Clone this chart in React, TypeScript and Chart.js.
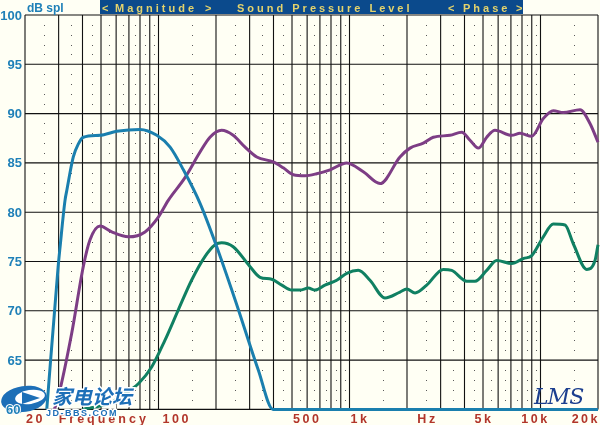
import { useEffect, useRef } from "react";
import { Chart, registerables } from "chart.js";

Chart.register(...registerables);

// ---- data (Hz, dB SPL) ----
const BLUE_HZ = [26, 29.8, 30.5, 32.4, 33.1, 35.8, 38, 40.4, 49.4, 60.4, 80, 98, 115, 135, 165, 200, 252, 333, 398, 20000];
const BLUE_DB = [60, 74.4, 76.4, 81.2, 82.2, 85.6, 86.9, 87.6, 87.8, 88.2, 88.4, 87.8, 86.6, 84.3, 80.9, 76.7, 71.1, 64, 60, 60];

const PURPLE_HZ = [28.5, 29.9, 35.1, 40.4, 43.8, 49.4, 56.9, 69.5, 85, 99.8, 112.5, 137.6, 165, 186, 214, 246, 284, 327, 399, 450, 508, 585, 673, 791, 967, 1181, 1445, 1838, 2074, 2434, 2746, 3360, 3868, 4275, 4725, 5228, 5778, 7066, 7810, 8996, 10342, 11668, 13162, 16100, 18158, 20000];
const PURPLE_DB = [60, 61.3, 67.7, 74.5, 77.2, 78.6, 78.0, 77.5, 78.0, 79.5, 81.2, 83.5, 86.1, 87.6, 88.3, 87.8, 86.6, 85.6, 85.1, 84.5, 83.8, 83.7, 83.9, 84.3, 85.0, 84.1, 82.9, 85.6, 86.5, 87.0, 87.6, 87.8, 88.1, 87.3, 86.5, 87.6, 88.3, 87.8, 88.0, 87.7, 89.5, 90.3, 90.1, 90.4, 89.0, 87.1];

const GREEN_HZ = [40, 55, 66.8, 78.4, 92.1, 108, 127, 149, 175, 198, 214, 246, 301, 340, 391, 442, 498, 551, 609, 660, 744, 857, 967, 1112, 1280, 1534, 1838, 1993, 2204, 2536, 3099, 3428, 4108, 4540, 5228, 5898, 7066, 8128, 8996, 10342, 11668, 13436, 14848, 17452, 19290, 20000];
const GREEN_DB = [60, 60.6, 61.6, 62.6, 64.3, 67.0, 70.1, 73.1, 75.5, 76.7, 76.9, 76.5, 74.5, 73.4, 73.2, 72.6, 72.1, 72.1, 72.3, 72.1, 72.6, 73.1, 73.8, 74.1, 73.1, 71.3, 71.9, 72.2, 71.8, 72.6, 74.2, 74.1, 73.0, 73.0, 74.1, 75.1, 74.8, 75.3, 75.6, 77.5, 78.8, 78.7, 76.8, 74.2, 75.1, 76.7];

// ---- axes ----
const GRID_HZ = [20, 30, 40, 50, 60, 70, 80, 90, 100, 200, 300, 400, 500, 600, 700, 800, 900, 1000, 2000, 3000, 4000, 5000, 6000, 7000, 8000, 9000, 10000, 20000];
const DOT_HZ = [25, 35, 45, 55, 65, 75, 85, 95, 150, 250, 350, 450, 550, 650, 750, 850, 950, 1500, 2500, 3500, 4500, 5500, 6500, 7500, 8500, 9500, 15000];
const GRID_DB = [60, 65, 70, 75, 80, 85, 90, 95, 100];
const Y_LABELS = ["60", "65", "70", "75", "80", "85", "90", "95", "100"];
const X_LABEL_HZ = [20, 100, 500, 1000, 5000, 10000, 20000];
const X_LABELS = ["20", "100", "500", "1k", "5k", "10k", "20k"];

const BG = "#fffff4";
const C_BLUE = "#1a7fae";
const C_PURPLE = "#7d3d85";
const C_GREEN = "#108062";
const LABEL_BLUE = "#1f80b8";
const LABEL_RED = "#b2352a";

function pts(hz: number[], db: number[]) {
  return hz.map((f, i) => ({ x: f, y: db[i] }));
}

const decorPlugin = {
  id: "decor",
  beforeDraw(chart: any) {
    const { ctx, width, height } = chart;
    ctx.save();
    ctx.fillStyle = BG;
    ctx.fillRect(0, 0, width, height);
    ctx.restore();
  },
  beforeDatasetsDraw(chart: any) {
    const { ctx, chartArea, scales } = chart;
    const { left, right, top, bottom } = chartArea;
    const x = scales.x;
    const y = scales.y;
    ctx.save();
    // dots
    ctx.fillStyle = "#5a5a5a";
    for (const f of DOT_HZ) {
      const px = Math.round(x.getPixelForValue(f));
      for (let d = 61; d < 100; d++) {
        if (d % 5 === 0) continue;
        const py = Math.round(y.getPixelForValue(d));
        ctx.fillRect(px, py, 1, 1);
      }
    }
    // grid lines
    ctx.strokeStyle = "#111111";
    ctx.lineWidth = 1.1;
    for (const f of GRID_HZ) {
      const px = x.getPixelForValue(f);
      ctx.beginPath();
      ctx.moveTo(px, top);
      ctx.lineTo(px, bottom);
      ctx.stroke();
    }
    for (const d of GRID_DB) {
      const py = y.getPixelForValue(d);
      ctx.beginPath();
      ctx.moveTo(left, py);
      ctx.lineTo(right, py);
      ctx.stroke();
    }
    ctx.restore();
  },
  afterDraw(chart: any) {
    const { ctx, chartArea, scales } = chart;
    const { left, right } = chartArea;
    const x = scales.x;
    const y = scales.y;
    ctx.save();

    // header bar
    ctx.fillStyle = "#0b4a8c";
    ctx.fillRect(100, 0, 423, 14);
    ctx.fillStyle = "#e4d36c";
    ctx.font = 'bold 11px "Liberation Sans", Arial, sans-serif';
    ctx.textBaseline = "alphabetic";
    ctx.textAlign = "left";
    (ctx as any).letterSpacing = "3px";
    ctx.fillText("<", 102, 11.5);
    ctx.fillText("Magnitude", 115, 11.5);
    ctx.fillText(">", 205, 11.5);
    ctx.fillText("Sound Pressure Level", 237, 11.5);
    ctx.fillText("<", 448, 11.5);
    ctx.fillText("Phase", 463, 11.5);
    ctx.fillText(">", 516, 11.5);

    // dB spl
    (ctx as any).letterSpacing = "0px";
    ctx.fillStyle = LABEL_BLUE;
    ctx.font = 'bold 12px "Liberation Sans", Arial, sans-serif';
    ctx.fillText("dB spl", 27, 12);

    // y labels
    ctx.font = 'bold 13px "Liberation Sans", Arial, sans-serif';
    ctx.textAlign = "right";
    ctx.textBaseline = "middle";
    GRID_DB.forEach((d, i) => {
      ctx.fillText(Y_LABELS[i], left - 3, y.getPixelForValue(d) + 1);
    });

    // x labels
    ctx.fillStyle = LABEL_RED;
    ctx.font = 'bold 12.5px "Liberation Sans", Arial, sans-serif';
    (ctx as any).letterSpacing = "2.5px";
    ctx.textBaseline = "alphabetic";
    const by = 423;
    X_LABEL_HZ.forEach((f, i) => {
      const px = x.getPixelForValue(f);
      const lab = X_LABELS[i];
      if (i === 0) {
        ctx.textAlign = "left";
        ctx.fillText(lab, px + 1, by);
      } else if (i === X_LABELS.length - 1) {
        ctx.textAlign = "right";
        ctx.fillText(lab, right + 2, by);
      } else if (i === 1) {
        ctx.textAlign = "left";
        ctx.fillText(lab, px + 4, by);
      } else if (i <= 3) {
        ctx.textAlign = "left";
        ctx.fillText(lab, px + 1, by);
      } else if (i === 4) {
        ctx.textAlign = "center";
        ctx.fillText(lab, px + 1, by);
      } else {
        ctx.textAlign = "center";
        ctx.fillText(lab, px - 5, by);
      }
    });
    ctx.textAlign = "left";
    (ctx as any).letterSpacing = "3px";
    ctx.fillText("Frequency", x.getPixelForValue(30), by);
    ctx.textAlign = "center";
    (ctx as any).letterSpacing = "2.5px";
    ctx.fillText("Hz", x.getPixelForValue(2500) + 2, by);

    // LMS signature
    (ctx as any).letterSpacing = "-1px";
    ctx.fillStyle = "#1c3f8f";
    ctx.font = 'italic 22px "DejaVu Serif", serif';
    ctx.textAlign = "left";
    ctx.fillText("LMS", 534, 404);

    // watermark logo
    (ctx as any).letterSpacing = "0px";
    ctx.fillStyle = "#1d6fb7";
    ctx.beginPath();
    ctx.ellipse(24, 399, 23, 13, -0.15, 0, Math.PI * 2);
    ctx.fill();
    ctx.fillStyle = "#ffffff";
    ctx.beginPath();
    ctx.ellipse(30, 397, 15, 7, -0.15, 0, Math.PI * 2);
    ctx.fill();
    ctx.fillStyle = "#1d6fb7";
    ctx.beginPath();
    ctx.moveTo(22, 392);
    ctx.lineTo(40, 398);
    ctx.lineTo(22, 404);
    ctx.closePath();
    ctx.fill();

    ctx.font = 'italic bold 20px "Noto Sans CJK SC", sans-serif';
    ctx.textBaseline = "alphabetic";
    ctx.lineWidth = 3;
    ctx.strokeStyle = "#ffffff";
    ctx.strokeText("家电论坛", 52, 404);
    ctx.fillStyle = "#1d6fb7";
    ctx.fillText("家电论坛", 52, 404);

    ctx.font = 'bold 9px "Liberation Sans", Arial, sans-serif';
    (ctx as any).letterSpacing = "1.5px";
    ctx.lineWidth = 2.5;
    ctx.strokeText("JD-BBS.COM", 46, 416);
    ctx.fillText("JD-BBS.COM", 46, 416);

    ctx.font = 'bold 13px "Liberation Sans", Arial, sans-serif';
    (ctx as any).letterSpacing = "0px";
    ctx.fillStyle = LABEL_BLUE;
    ctx.strokeStyle = "#ffffff";
    ctx.lineWidth = 2;
    ctx.strokeText("60", 6, 414);
    ctx.fillText("60", 6, 414);

    ctx.restore();
  },
};

export default function App() {
  const ref = useRef<HTMLCanvasElement | null>(null);

  useEffect(() => {
    document.body.style.margin = "0";
    const canvas = ref.current;
    if (!canvas) return;
    const ds = (label: string, hz: number[], db: number[], color: string) => ({
      label,
      data: pts(hz, db),
      borderColor: color,
      backgroundColor: color,
      borderWidth: 3,
      pointRadius: 0,
      showLine: true,
      fill: false,
      cubicInterpolationMode: "monotone" as const,
      clip: 4,
    });
    const chart = new Chart(canvas, {
      type: "scatter",
      data: {
        datasets: [
          ds("Woofer", BLUE_HZ, BLUE_DB, C_BLUE),
          ds("Midrange", GREEN_HZ, GREEN_DB, C_GREEN),
          ds("System", PURPLE_HZ, PURPLE_DB, C_PURPLE),
        ],
      },
      options: {
        animation: false,
        responsive: false,
        maintainAspectRatio: false,
        layout: { padding: { left: 25, top: 15, right: 2, bottom: 15.6 } },
        plugins: { legend: { display: false }, tooltip: { enabled: false } },
        scales: {
          x: { type: "logarithmic", min: 20, max: 20000, display: false },
          y: { type: "linear", min: 60, max: 100, display: false },
        },
      },
      plugins: [decorPlugin],
    });
    return () => chart.destroy();
  }, []);

  return (
    <div style={{ width: 600, height: 425, position: "relative" }}>
      <canvas ref={ref} width={600} height={425} style={{ display: "block" }} />
    </div>
  );
}
